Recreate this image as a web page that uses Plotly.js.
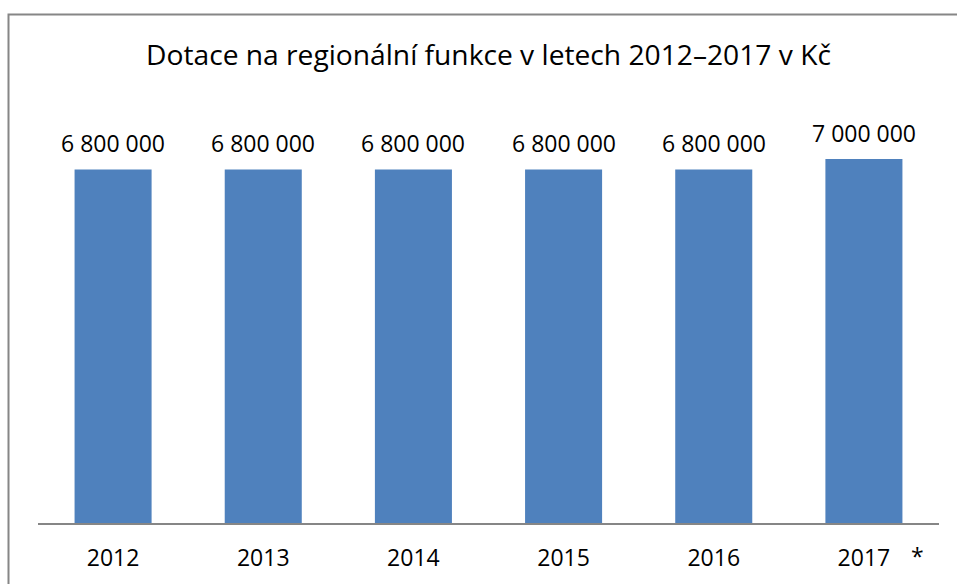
<!DOCTYPE html>
<html>
<head>
<meta charset="utf-8">
<script src="https://cdn.plot.ly/plotly-3.0.1.min.js"></script>
<style>html,body{margin:0;padding:0;background:#fff;}#chart{width:957px;height:584px;}</style>
</head>
<body>
<div id="chart"></div>
<script>
const years = ["2012", "2013", "2014", "2015", "2016", "2017"];
const values = [6800000, 6800000, 6800000, 6800000, 6800000, 7000000];
const valueLabels = ["6 800 000", "6 800 000", "6 800 000", "6 800 000", "6 800 000", "7 000 000"];
const titleText = "Dotace na regionální funkce v letech 2012–2017 v Kč";
const footnoteMark = "*";

const FONT = "Open Sans";

const trace = {
  type: "bar",
  x: years,
  y: values,
  marker: {color: "#4F81BD", line: {width: 0}},
  hoverinfo: "none"
};

const annotations = years.map((yr, i) => ({
  x: i, y: values[i], xref: "x", yref: "y",
  text: valueLabels[i], showarrow: false,
  xanchor: "center", yanchor: "bottom", yshift: 8,
  font: {family: FONT, size: 23, color: "#000000"}
}));
annotations.push({
  x: years.length - 1, y: 0, xref: "x", yref: "y",
  text: footnoteMark, showarrow: false,
  xanchor: "center", yanchor: "top", xshift: 54, yshift: -15,
  font: {family: FONT, size: 23, color: "#000000"}
});

const layout = {
  width: 957, height: 584,
  margin: {l: 38, r: 18, t: 133, b: 61},
  paper_bgcolor: "#fff", plot_bgcolor: "#fff",
  title: {
    text: titleText, x: 0.5, xref: "paper", xanchor: "center",
    y: 1 - 55/584, yref: "container", yanchor: "middle",
    font: {family: FONT, size: 28.2, color: "#000"}
  },
  bargap: 0.487,
  showlegend: false,
  xaxis: {
    type: "category", range: [-0.5, 5.5],
    showline: true, linecolor: "#868686", linewidth: 2,
    ticks: "", ticklabelstandoff: 13,
    tickfont: {family: FONT, size: 23, color: "#000"},
    showgrid: false, zeroline: false
  },
  yaxis: {
    range: [0, 7500000], showticklabels: false, showline: false, ticks: "",
    showgrid: false, zeroline: false
  },
  annotations: annotations,
  shapes: [{
    type: "rect", xref: "paper", yref: "paper",
    x0: (8.5 - 38) / 901, x1: 1.2,
    y0: -0.4, y1: (523 - 14.5) / 390,
    line: {color: "#868686", width: 2}, fillcolor: "rgba(0,0,0,0)"
  }]
};

Plotly.newPlot("chart", [trace], layout, {displayModeBar: false});
</script>
</body>
</html>
